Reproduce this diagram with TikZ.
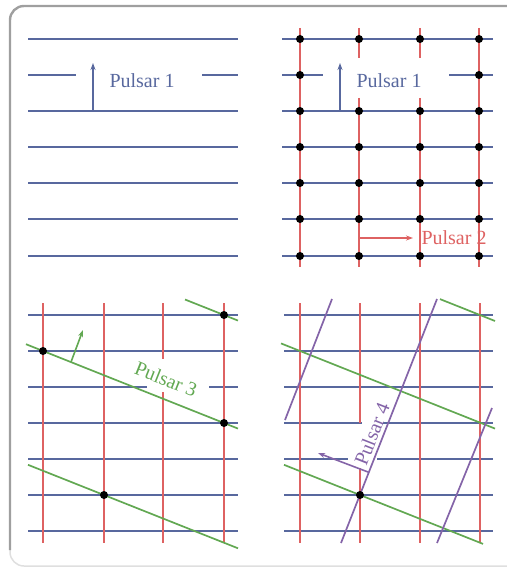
\documentclass[tikz,border=0pt]{standalone}
\usepackage{fontspec}
\setmainfont{Liberation Serif}
\usetikzlibrary{arrows.meta}
\definecolor{pblue}{RGB}{88,104,158}
\definecolor{pred}{RGB}{222,98,98}
\definecolor{pgreen}{RGB}{98,168,82}
\definecolor{ppurple}{RGB}{132,100,168}
\begin{document}
\begin{tikzpicture}[x=1pt,y=-1pt,
  bl/.style={pblue,line width=2pt},
  rd/.style={pred,line width=2.2pt},
  gr/.style={pgreen,line width=1.7pt},
  pu/.style={ppurple,line width=1.7pt},
  dot/.style={circle,fill=black,inner sep=0pt,minimum size=8pt},
  lbl/.style={font=\fontsize{20}{24}\selectfont, inner sep=1pt},
  arr/.style={-{Stealth[length=7pt,width=5pt]}, line width=1.6pt}]
\useasboundingbox (0,0) rectangle (506,569);
% frame
\draw[gray!25, line width=1.5pt, rounded corners=14pt] (10,530) -- (10,566) -- (540,566);
\draw[gray!75, line width=2.4pt, rounded corners=14pt] (10,550) -- (10,6) -- (540,6);

% ---------- top-left ----------
\foreach \y in {39,111,147,183,219,256} \draw[bl] (28,\y) -- (238,\y);
\draw[bl] (28,75) -- (76,75);
\draw[bl] (202,75) -- (238,75);
\coordinate (a1s) at (93,111);
\coordinate (a1e) at (93,63);
\draw[arr,pblue] (a1s) -- (a1e);
\node[lbl,text=pblue] (p1a) at (142,81) {Pulsar 1};

% ---------- top-right ----------
\foreach \y in {39,111,147,183,219,256} \draw[bl] (282,\y) -- (493,\y);
\draw[bl] (282,75) -- (323,75);
\draw[bl] (449,75) -- (493,75);
\foreach \x in {300,479} \draw[rd] (\x,28) -- (\x,267);
\foreach \x in {359,420} {\draw[rd] (\x,28) -- (\x,58); \draw[rd] (\x,98) -- (\x,267);}
\coordinate (a2s) at (340,111);
\coordinate (a2e) at (340,63);
\draw[arr,pblue] (a2s) -- (a2e);
\node[lbl,text=pblue] (p1b) at (389,81) {Pulsar 1};
\coordinate (b2s) at (359,238);
\coordinate (b2e) at (413,238);
\draw[arr,pred] (b2s) -- (b2e);
\node[lbl,text=pred] (p2) at (454,238) {Pulsar 2};
\foreach \x in {300,359,420,479}
  \foreach \y in {39,111,147,183,219,256}
    \node[dot] (d\x-\y) at (\x,\y) {};
\node[dot] (d300-75) at (300,75) {};
\node[dot] (d479-75) at (479,75) {};

% ---------- bottom-left ----------
\foreach \y in {315,351,423,459,495,531} \draw[bl] (28,\y) -- (238,\y);
\draw[bl] (28,387) -- (147,387);
\draw[bl] (209,387) -- (238,387);
\foreach \x in {43,104,224} \draw[rd] (\x,303) -- (\x,543);
\draw[rd] (163,303) -- (163,359);
\draw[rd] (163,392) -- (163,543);
\draw[gr] (26,344.2) -- (238,428.6);
\draw[gr] (185,299.5) -- (238,320.6);
\draw[gr] (28,464.8) -- (238,548.3);
\coordinate (c3s) at (71,362);
\coordinate (c3e) at (83,330);
\draw[arr,pgreen] (c3s) -- (c3e);
\node[lbl,text=pgreen,rotate=-21.7] (p3) at (166,379) {Pulsar 3};
\node[dot] (e1) at (43,351) {};
\node[dot] (e2) at (224,315) {};
\node[dot] (e3) at (224,423) {};
\node[dot] (e4) at (104,495) {};

% ---------- bottom-right ----------
\foreach \y in {315,351,387,495,531} \draw[bl] (284,\y) -- (493,\y);
\draw[bl] (284,423) -- (362,423);
\draw[bl] (383,423) -- (493,423);
\draw[bl] (284,459) -- (348,459);
\draw[bl] (377,459) -- (493,459);
\foreach \x in {300,420,480} \draw[rd] (\x,303) -- (\x,543);
\draw[rd] (360,303) -- (360,423);
\draw[rd] (360,468) -- (360,543);
\draw[gr] (281,343.4) -- (495,428.6);
\draw[gr] (440,299.1) -- (495,321);
\draw[gr] (284,464.8) -- (483,543.9);
\draw[pu] (285,420) -- (332,299);
\draw[pu] (341,543) -- (437,299);
\draw[pu] (437,543) -- (492,408);
\coordinate (d4s) at (368,472);
\coordinate (d4e) at (318,453);
\draw[arr,ppurple] (d4s) -- (d4e);
\node[lbl,text=ppurple,rotate=68.5] (p4) at (372,434) {Pulsar 4};
\node[dot] (f1) at (360,495) {};
\end{tikzpicture}
\end{document}
